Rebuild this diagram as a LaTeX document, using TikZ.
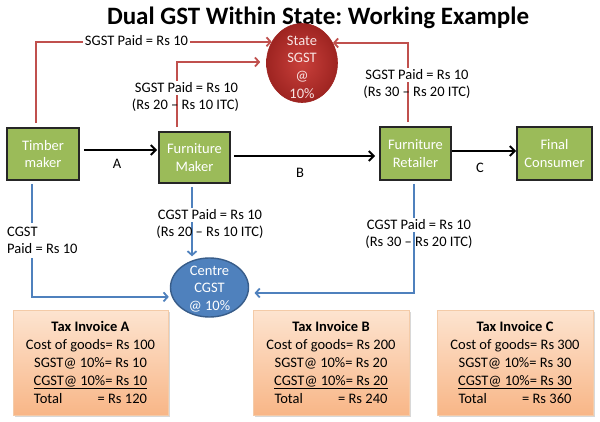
\documentclass[tikz,border=0pt]{standalone}
\usepackage{fontspec}
\setmainfont{Carlito}
\frenchspacing
\usetikzlibrary{arrows.meta,shapes.geometric,shadows,calc}
\definecolor{boxgreen}{HTML}{9BBB59}
\definecolor{boxedge}{HTML}{262626}
\definecolor{redline}{HTML}{C0504D}
\definecolor{blueline}{HTML}{4F81BD}
\definecolor{blueedge}{HTML}{385D8A}
\definecolor{redin}{HTML}{C9403B}
\definecolor{redout}{HTML}{9E2421}
\definecolor{redtext}{HTML}{F8E4E3}
\definecolor{invtop}{HTML}{FDE4D0}
\definecolor{invbot}{HTML}{F8B687}
\definecolor{invedge}{HTML}{F4CBA8}
\begin{document}
\begin{tikzpicture}[x=1pt,y=-1pt,
  every node/.style={font=\fontsize{14.5}{17.7}\selectfont},
  party/.style={draw=boxedge,line width=1.6pt,fill=boxgreen,text=white,inner sep=0pt,align=center},
  lbl/.style={inner sep=2pt,text=black},
  blk/.style={line width=2pt,-{Straight Barb[length=5pt,width=10pt]}},
  rl/.style={draw=redline,line width=1.8pt,-{Straight Barb[length=4pt,width=9pt]}},
  bl/.style={draw=blueline,line width=1.8pt,-{Straight Barb[length=4pt,width=9pt]}},
  invoice/.style={draw=invedge,line width=0.6pt,top color=invtop,bottom color=invbot,
    drop shadow={shadow xshift=2pt,shadow yshift=-2pt,fill=black!30},
    align=center,inner sep=0pt,font=\fontsize{14.5}{18}\selectfont},
]
\fill[white] (0,0) rectangle (600,422);
\useasboundingbox (0,0) rectangle (600,422);

% title
\node[font=\fontsize{25}{30}\selectfont\bfseries,anchor=base] (title) at (318,25) {Dual GST Within State: Working Example};

% parties
\node[party,minimum width=72pt,minimum height=52pt] (timber) at (43,154) {Timber\\maker};
\node[party,minimum width=71pt,minimum height=51pt] (fm) at (194.5,157.5) {Furniture\\Maker};
\node[party,minimum width=71pt,minimum height=53pt] (fr) at (415.5,153.5) {Furniture\\Retailer};
\node[party,minimum width=75pt,minimum height=53pt] (fc) at (554.5,153.5) {Final\\Consumer};

% tax authorities
\node[ellipse,inner sep=0pt,minimum width=71pt,minimum height=79pt,draw=redout,line width=0.6pt,
      shading=radial,inner color=redin,outer color=redout] (state) at (302,63) {};
\node[text=redtext,align=center,inner sep=0pt] (statet) at (302,67) {State\\SGST\\@\\10\%};
\node[ellipse,inner sep=0pt,minimum width=78pt,minimum height=59pt,draw=blueedge,line width=1.4pt,
      fill=blueline] (centre) at (209.5,287.5) {};
\node[text=white,align=center,inner sep=0pt,font=\fontsize{14.5}{17.5}\selectfont] (centret) at (209.5,289) {Centre\\CGST\\@ 10\%};

% goods flow
\draw[blk] ($(timber.east)+(4,-4)$) -- ($(timber.east -| fm.west)+(-1,-4)$);
\draw[blk] ($(fm.east)+(3,-1.5)$) -- ($(fm.east -| fr.west)+(-4,-1.5)$);
\draw[blk] ($(fr.east)+(0,-2.5)$) -- ($(fr.east -| fc.west)+(0,-2.5)$);
\node[lbl,anchor=base] (la) at (117,169) {A};
\node[lbl,anchor=base] (lb) at (300,178) {B};
\node[lbl,anchor=base] (lc) at (480,173) {C};

% SGST flows
\draw[rl] ($(timber.north)+(-7,-4)$) |- (state.145);
\draw[rl] ($(fm.north)+(-17.5,-4)$) |- ($(state.west)+(-6,-1)$);
\draw[rl] ($(fr.north)+(-7.5,-4)$) |- (state.33);
\node[lbl,fill=white,anchor=base] (s1) at (136.5,46) {SGST Paid = Rs 10};
\node[lbl,fill=white,anchor=base] (s2a) at (186.5,93) {SGST Paid = Rs 10};
\node[lbl,anchor=base] (s2b) at (185.5,110) {(Rs 20 \textendash{} Rs 10 ITC)};
\node[lbl,fill=white,anchor=base] (s3a) at (417,80) {SGST Paid = Rs 10};
\node[lbl,anchor=base] (s3b) at (417,96.5) {(Rs 30 \textendash{} Rs 20 ITC)};

% CGST flows
\draw[bl,shorten >=3pt] ($(timber.south)+(-11,3)$) |- (centre.194);
\draw[bl,shorten >=1pt] ($(fm.south)+(-2.5,3)$) coordinate (fmb) -- (fmb |- centre.north);
\draw[bl,shorten >=6pt] ($(fr.south)+(-1.5,3)$) |- (centre.352);
\node[lbl,fill=white,align=left,anchor=west,inner sep=4pt] (c1) at (3,240.4) {CGST\\Paid = Rs 10};
\node[lbl,fill=white,anchor=base] (c2a) at (210,220) {CGST Paid = Rs 10};
\node[lbl,anchor=base] (c2b) at (210,237) {(Rs 20 \textendash{} Rs 10 ITC)};
\node[lbl,fill=white,anchor=base] (c3a) at (419,230) {CGST Paid = Rs 10};
\node[lbl,anchor=base] (c3b) at (419,246.5) {(Rs 30 \textendash{} Rs 20 ITC)};

% invoices
\node[invoice,minimum width=155pt,minimum height=105pt] (invA) at (90.5,362.5)
  {\textbf{Tax Invoice A}\\Cost of goods= Rs 100\\SGST@ 10\%= Rs 10\\\underline{CGST@ 10\%= Rs 10}\\\makebox[113pt][s]{Total\hfill= Rs 120}};
\node[invoice,minimum width=156pt,minimum height=105pt] (invB) at (331,362.5)
  {\textbf{Tax Invoice B}\\Cost of goods= Rs 200\\SGST@ 10\%= Rs 20\\\underline{CGST@ 10\%= Rs 20}\\\makebox[113pt][s]{Total\hfill= Rs 240}};
\node[invoice,minimum width=156pt,minimum height=105pt] (invC) at (515,362.5)
  {\textbf{Tax Invoice C}\\Cost of goods= Rs 300\\SGST@ 10\%= Rs 30\\\underline{CGST@ 10\%= Rs 30}\\\makebox[113pt][s]{Total\hfill= Rs 360}};
\end{tikzpicture}
\end{document}
